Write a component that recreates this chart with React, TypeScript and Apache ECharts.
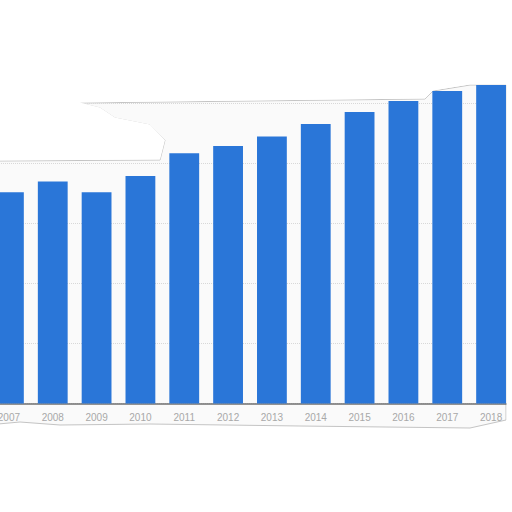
import React, { useEffect, useRef } from "react";
import * as echarts from "echarts";

const categories = ["2007", "2008", "2009", "2010", "2011", "2012", "2013", "2014", "2015", "2016", "2017", "2018"];
const values = [352, 370, 352, 379, 417, 429, 445, 466, 486, 504, 521, 531];

const paperEdge = [
  [-2, 161], [160, 160], [165, 140], [150, 125], [115, 118], [100, 108], [80, 103],
  [250, 101], [425, 99], [433, 91], [470, 85], [506, 85], [506, 420],
  [470, 428], [300, 426], [150, 424], [60, 425], [20, 422], [-2, 424],
];
const topCover = [
  [-2, -2], [514, -2], [514, 84.5], [506, 84.5], [470, 84.5], [433, 90.5], [425, 98.5],
  [250, 100.5], [80, 102.5], [100, 107.5], [115, 117.5], [150, 124.5], [165, 140], [160, 159.5], [-2, 160.5],
];

export default function App() {
  const ref = useRef<HTMLDivElement>(null);
  useEffect(() => {
    if (!ref.current) return;
    const chart = echarts.init(ref.current, undefined, { renderer: "svg" });
    chart.setOption({
      animation: false,
      backgroundColor: "#ffffff",
      graphic: [
        {
          type: "group",
          x: 13,
          silent: true,
          children: [
            {
              type: "polygon",
              z: -10,
              shape: { points: paperEdge },
              style: { fill: "#fafafa", stroke: "#c4c4c4", lineWidth: 1 },
            },
            {
              type: "polygon",
              z: 1,
              shape: { points: topCover },
              style: { fill: "#ffffff" },
            },
            {
              type: "rect",
              z: 1,
              shape: { x: 506.5, y: 0, width: 10, height: 512 },
              style: { fill: "#ffffff" },
            },
          ],
        },
      ],
      grid: { left: 0, right: 0, top: 43.5, bottom: 108.5, containLabel: false },
      xAxis: {
        type: "category",
        data: categories,
        axisLine: { show: true, lineStyle: { color: "#6f6f6f", width: 1.5 } },
        axisTick: { show: false },
        axisLabel: { color: "#a8a8a8", fontSize: 10, margin: 9, fontFamily: "Arial, Liberation Sans, sans-serif" },
      },
      yAxis: {
        type: "value",
        min: 0,
        max: 600,
        interval: 100,
        axisLabel: { show: false },
        axisLine: { show: false },
        axisTick: { show: false },
        splitLine: { show: true, lineStyle: { color: "#d8d8d8", type: "dotted", width: 1 } },
      },
      series: [
        {
          type: "bar",
          z: 3,
          data: values,
          barCategoryGap: "32%",
          itemStyle: { color: "#2a76d8" },
        },
      ],
    });
    return () => chart.dispose();
  }, []);
  return (
    <div style={{ position: "absolute", left: 0, top: 0, width: 512, height: 512, overflow: "hidden" }}>
      <div ref={ref} style={{ position: "absolute", left: -13, top: 0, width: 526, height: 512 }} />
    </div>
  );
}
